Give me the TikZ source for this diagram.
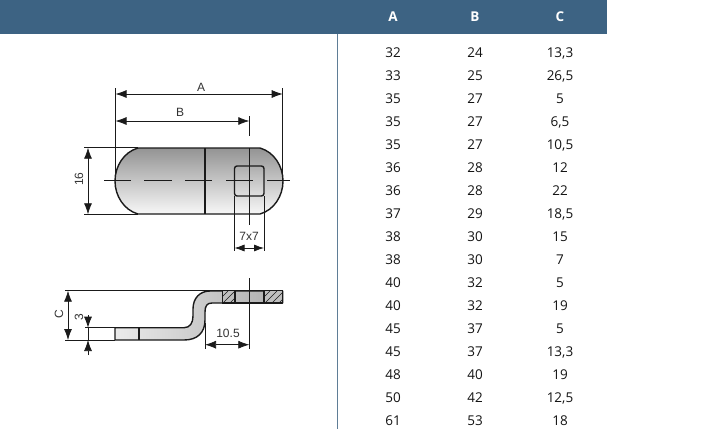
\documentclass[tikz,border=0pt]{standalone}
\usepackage{fontspec}
\setmainfont{Liberation Sans}
\newfontfamily\tablefont{Open Sans}
\usetikzlibrary{arrows.meta,patterns}
\definecolor{headblue}{HTML}{3D6383}
\definecolor{rulegray}{HTML}{5F7D96}
\definecolor{inkc}{HTML}{1A1A1A}
\tikzset{
  x=1pt,y=-1pt,
  outline/.style={draw=inkc,line width=1.4pt,line join=round},
  thin line/.style={draw=inkc,line width=0.75pt},
  dimline/.style={draw=inkc,line width=0.75pt,{Latex[length=11pt,width=8pt]}-{Latex[length=11pt,width=8pt]}},
  singlearrow/.style={draw=inkc,line width=0.75pt,-{Latex[length=11pt,width=8pt]}},
  dimtext/.style={font=\fontsize{12}{12}\selectfont,text=black!80,inner sep=0pt},
  cell/.style={font=\tablefont\fontsize{13.5}{14}\selectfont,text=black!92,inner sep=0pt,anchor=base},
  headcell/.style={font=\tablefont\bfseries\fontsize{13.5}{14}\selectfont,text=white,inner sep=0pt,anchor=base},
  hatchline/.style={draw=inkc,line width=0.6pt},
}
\begin{document}
\begin{tikzpicture}
\useasboundingbox (0,0) rectangle (725,429);
\fill[white] (0,0) rectangle (725,429);
% table
\fill[headblue] (0,0) rectangle (606.5,33.5);
\draw[rulegray,line width=0.8pt] (337.5,33.5) -- (337.5,429);
\node[headcell] (ha) at (393,21) {A};
\node[headcell] (hb) at (475,21) {B};
\node[headcell] (hc) at (560,21) {C};
\foreach \i/\a/\b/\c in {0/32/24/{13,3},1/33/25/{26,5},2/35/27/5,3/35/27/{6,5},4/35/27/{10,5},5/36/28/12,6/36/28/22,7/37/29/{18,5},8/38/30/15,9/38/30/7,10/40/32/5,11/40/32/19,12/45/37/5,13/45/37/{13,3},14/48/40/19,15/50/42/{12,5},16/61/53/18}{
  \node[cell] (a\i) at (393,{57+23*\i}) {\a};
  \node[cell] (b\i) at (475,{57+23*\i}) {\b};
  \node[cell] (c\i) at (560,{57+23*\i}) {\c};
}
% top view
\draw[outline,top color=black!42,bottom color=black!3]
  (138,148) -- (260,148) .. controls (274,152) and (283,166) .. (283,181)
  .. controls (283,196) and (274,210) .. (260,214) -- (138,214)
  .. controls (124,210) and (115,196) .. (115,181)
  .. controls (115,166) and (124,152) .. (138,148) -- cycle;
\draw[outline] (205,148) -- (205,214);
\draw[outline,top color=black!32,bottom color=black!12,rounded corners=2.5pt] (234.5,166) rectangle (264,196);
\draw[thin line] (104,180.7) -- (131,180.7) (144,180.7) -- (172,180.7) (185,180.7) -- (212,180.7) (226,180.7) -- (253,180.7) (267,180.7) -- (290,180.7);
\draw[thin line] (115.5,88) -- (115.5,181) (282.7,88) -- (282.7,181);
\draw[dimline] (115.5,94) -- (282.7,94);
\node[dimtext] (la) at (201,87.5) {A};
\draw[thin line] (249.3,116) -- (249.3,136) (249.3,148) -- (249.3,225);
\draw[dimline] (115.5,121) -- (249.3,121);
\node[dimtext] (lb) at (180,112.5) {B};
\draw[thin line] (84,147.7) -- (138,147.7) (84,214.3) -- (138,214.3);
\draw[dimline] (88,147.7) -- (88,214.3);
\node[dimtext,rotate=90] (l16) at (79,179) {16};
\draw[thin line] (234.5,196) -- (234.5,251) (264,196) -- (264,251);
\draw[thin line,{Latex[length=10pt,width=7pt]}-{Latex[length=10pt,width=7pt]}] (234.5,248) -- (264,248);
\node[dimtext] (l7) at (249,236) {7x7};
% side view
\draw[outline,left color=black!8,right color=black!32]
  (115,327.7) -- (184,327.7) .. controls (190,327.7) and (193,323) .. (193,316)
  -- (193,309) .. controls (193,298) and (200,291) .. (210,291)
  -- (282.7,291) -- (282.7,303) -- (212,303)
  .. controls (207,303) and (205,306) .. (205,312) -- (205,320)
  .. controls (205,333) and (197,340) .. (184,340)
  -- (115,340) -- cycle;
\draw[outline] (139,327.7) -- (139,340);
\begin{scope}
  \clip (222,291) rectangle (235,303);
  \fill[black!25] (222,291) rectangle (235,303);
  \foreach \h in {222,229,236,243} \draw[hatchline] (\h-6,303) -- (\h+6,291);
\end{scope}
\begin{scope}
  \clip (264,291) rectangle (282.7,303);
  \fill[black!25] (264,291) rectangle (282.7,303);
  \foreach \h in {264,271,278,285,292} \draw[hatchline] (\h-6,303) -- (\h+6,291);
\end{scope}
\draw[outline] (235,291) -- (235,303) (264,291) -- (264,303) (222,303) -- (282.7,303) -- (282.7,291);
\draw[line width=0.8pt,inkc] (222,291) -- (222,303);
\draw[thin line] (65,290.7) -- (282.7,290.7);
\draw[thin line] (65,340) -- (115,340) (85,327.7) -- (115,327.7);
\draw[dimline] (68,290.7) -- (68,340);
\node[dimtext,rotate=90] (lc) at (59,314) {C};
\draw[singlearrow] (88,315) -- (88,327.7);
\draw[singlearrow] (88,355) -- (88,340);
\draw[thin line] (88,327.7) -- (88,340);
\node[dimtext,rotate=90] (l3) at (79,317) {3};
\draw[thin line] (205,323) -- (205,349) (249.3,278) -- (249.3,349);
\draw[dimline] (205,344.7) -- (249.3,344.7);
\node[dimtext] (l10) at (228,333) {10.5};
\end{tikzpicture}
\end{document}
